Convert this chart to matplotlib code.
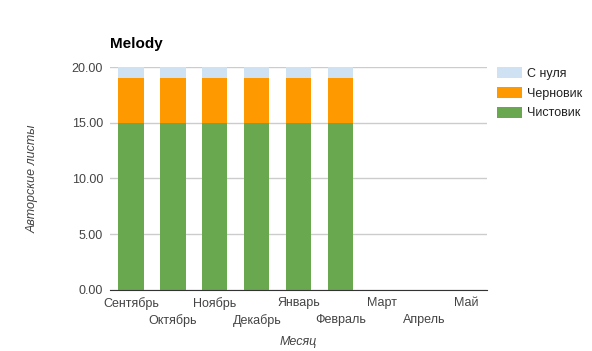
import matplotlib.pyplot as plt
import numpy as np

plt.rcParams['font.family'] = ['Liberation Sans', 'DejaVu Sans']

months = ['Сентябрь', 'Октябрь', 'Ноябрь', 'Декабрь', 'Январь',
          'Февраль', 'Март', 'Апрель', 'Май']
clean = [15, 15, 15, 15, 15, 15, 0, 0, 0]     # Чистовик
draft = [4, 4, 4, 4, 4, 4, 0, 0, 0]           # Черновик
scratch = [1, 1, 1, 1, 1, 1, 0, 0, 0]         # С нуля
yticks = [0, 5, 10, 15, 20]

fig = plt.figure(figsize=(5.92, 3.51), dpi=100)
ax = fig.add_axes([0.186, 0.174, 0.637, 0.635])

x = np.arange(len(months))
clean = np.array(clean)
draft = np.array(draft)
scratch = np.array(scratch)
w = 0.6
b1 = ax.bar(x, clean, w, color='#6aa84f', label='Чистовик', zorder=2)
b2 = ax.bar(x, draft, w, bottom=clean, color='#ff9900', label='Черновик', zorder=2)
b3 = ax.bar(x, scratch, w, bottom=clean + draft, color='#cfe2f3', label='С нуля', zorder=2)

ax.set_xlim(-0.5, len(months) - 0.5)
ax.set_ylim(0, 20)
ax.set_yticks(yticks)
ax.set_yticklabels(['%.2f' % v for v in yticks])
ax.yaxis.grid(True, color='#cccccc', linewidth=1, zorder=0)
ax.set_xticks(x)
ax.set_xticklabels(months)
ax.tick_params(axis='both', length=0, labelsize=9, colors='#444444', pad=5)
# stagger every second month label one row lower
for i, lab in enumerate(ax.get_xticklabels()):
    if i % 2 == 1:
        lab.set_y(-0.075)
for s in ['top', 'right', 'left']:
    ax.spines[s].set_visible(False)
ax.spines['bottom'].set_color('#333333')
ax.spines['bottom'].set_zorder(3)

ax.set_xlabel('Месяц', fontsize=9, style='italic', color='#444444', labelpad=7)
ax.set_ylabel('Авторские листы', fontsize=9, style='italic', color='#444444', labelpad=24)
fig.text(0.186, 0.875, 'Melody', fontsize=11, fontweight='bold', ha='left', va='center')

ax.legend(handles=[b3, b2, b1], loc='upper left', bbox_to_anchor=(1.027, 1.0),
          frameon=False, fontsize=9, handlelength=2.0, handleheight=1.0,
          labelspacing=0.55, handletextpad=0.4, borderpad=0, borderaxespad=0,
          labelcolor='#222222')

fig.savefig('out.png', dpi=100)
